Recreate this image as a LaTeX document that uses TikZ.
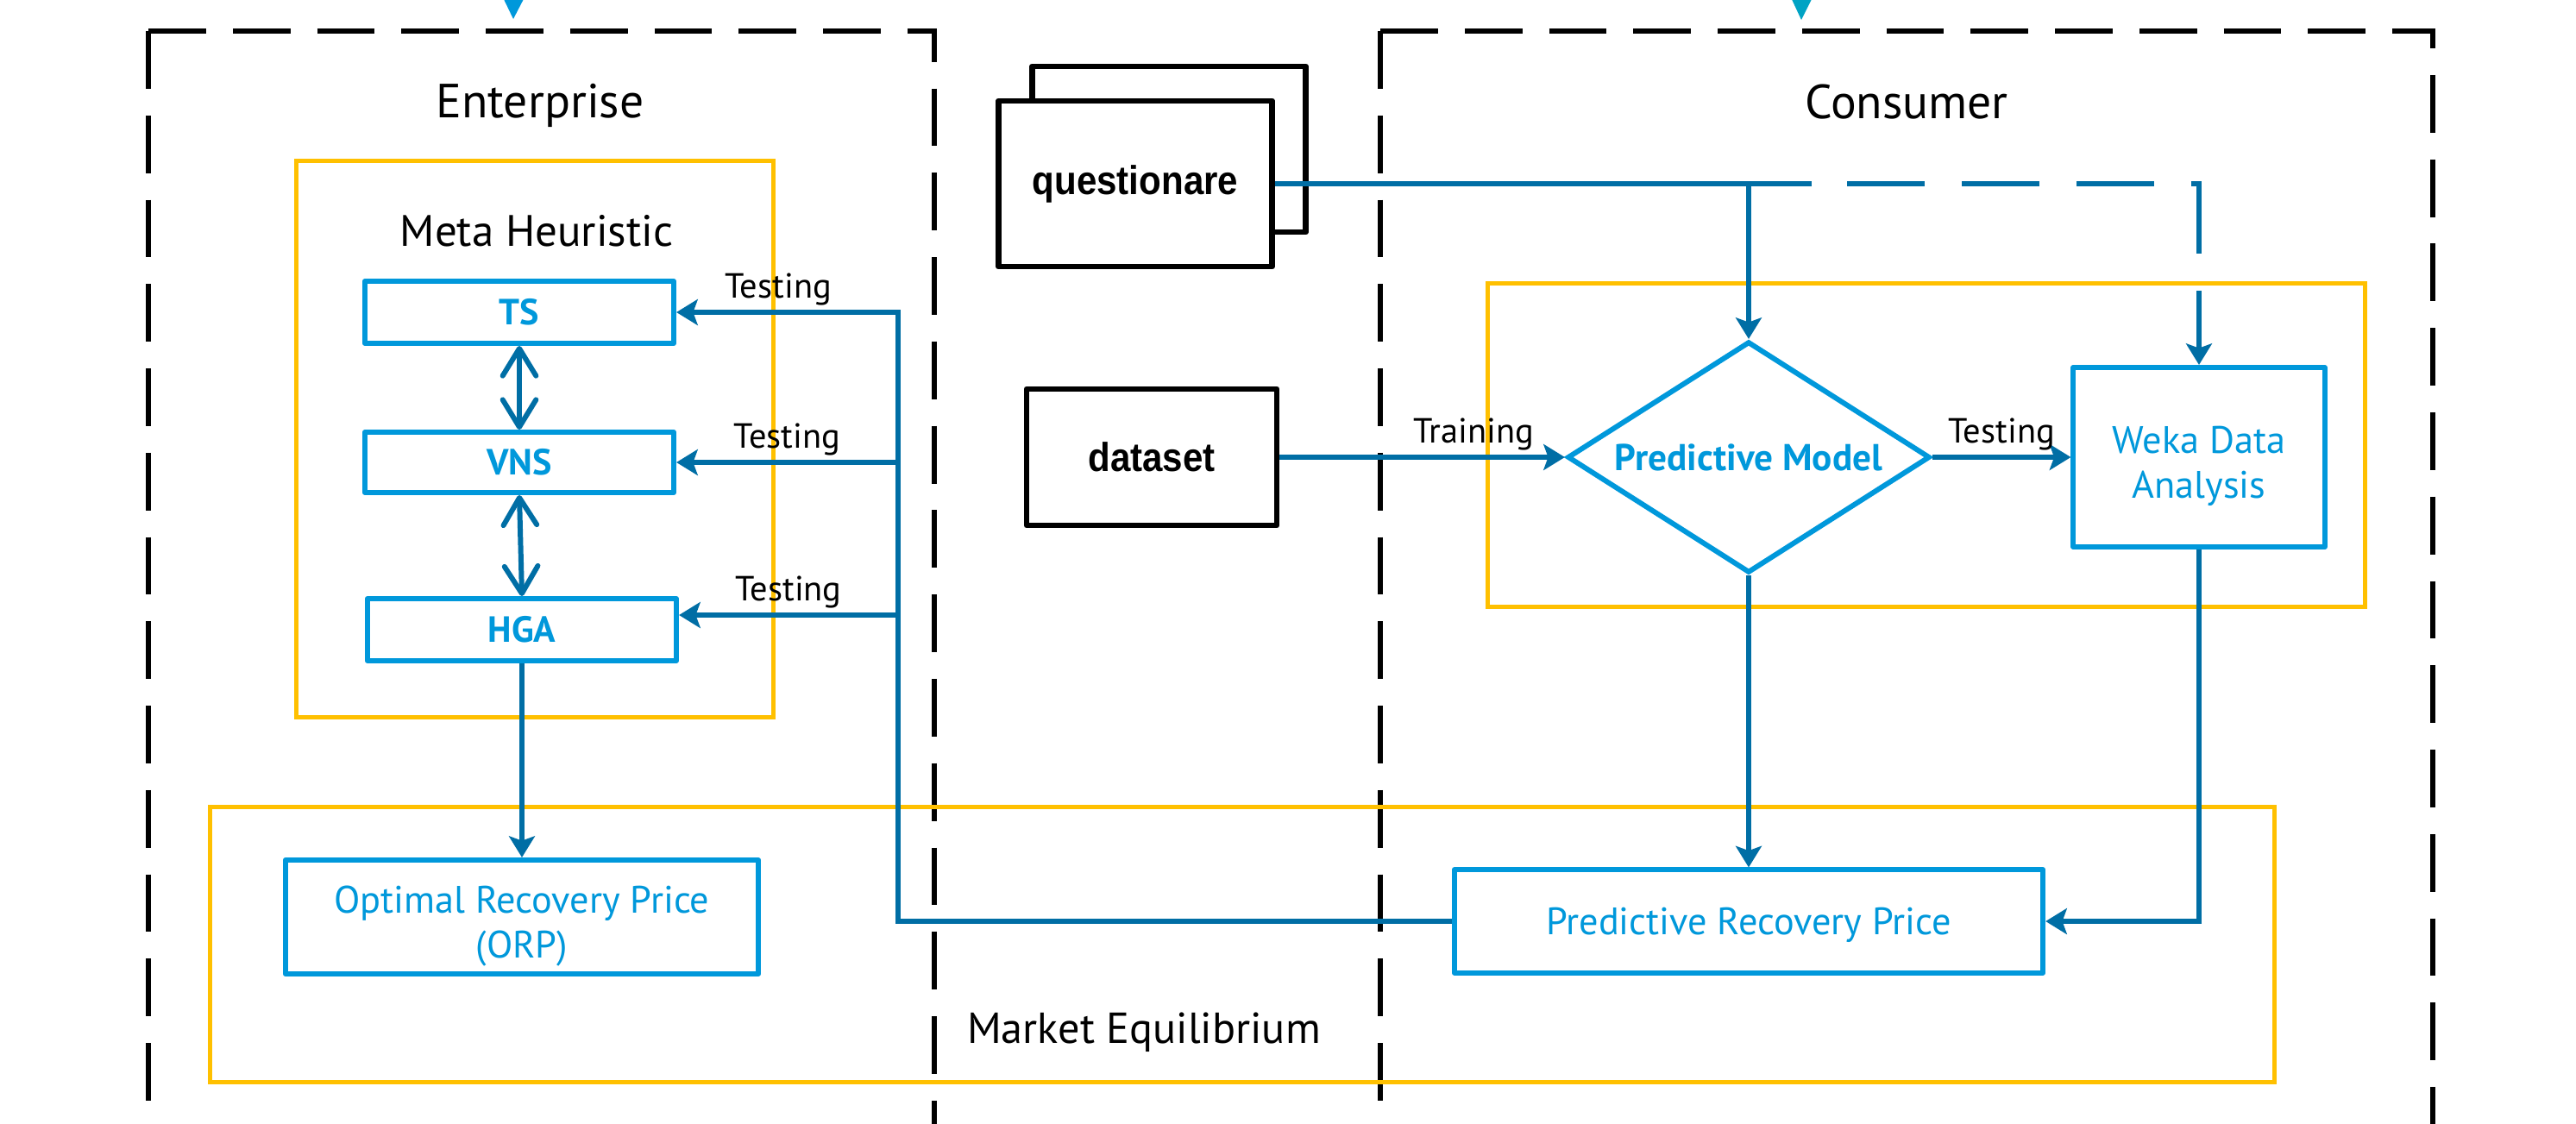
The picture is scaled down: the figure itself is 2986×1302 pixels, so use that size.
\documentclass[tikz,border=0pt]{standalone}
\usepackage{fontspec}
\setmainfont{PT Sans}
\newfontfamily\qfont[FakeStretch=0.9]{Liberation Sans}
\usetikzlibrary{arrows.meta,shapes.geometric}

\definecolor{boxblue}{RGB}{0,152,219}
\definecolor{lineblue}{RGB}{0,110,165}
\definecolor{goldline}{RGB}{255,192,0}
\definecolor{tealtip}{RGB}{0,163,196}

\begin{document}
\begin{tikzpicture}[x=0.01cm,y=-0.01cm,
    algobox/.style={draw=boxblue,line width=1.7pt,line join=round,text=boxblue,
        rectangle,inner sep=0pt,font=\bfseries\fontsize{12}{14}\selectfont},
    pricebox/.style={draw=boxblue,line width=1.7pt,line join=round,text=boxblue,
        rectangle,align=center,inner sep=0pt,font=\fontsize{12.6}{14.8}\selectfont},
    goldframe/.style={draw=goldline,line width=1.4pt,rectangle,inner sep=0pt},
    sidewall/.style={draw=black,line width=1.9pt,dash pattern=on 19pt off 8.8pt},
    paperbox/.style={draw=black,line width=1.9pt,line join=round,fill=white,
        rectangle,inner sep=0pt,font=\qfont\bfseries\fontsize{13.3}{16}\selectfont},
    headline/.style={font=\fontsize{15.8}{18}\selectfont},
    flowline/.style={draw=lineblue,line width=1.7pt},
    flowarrow/.style={flowline,-{Stealth[length=7pt,width=8.5pt,inset=1.5pt]}},
    twoway/.style={flowline,{Straight Barb[length=9pt,width=11pt,round]}-{Straight Barb[length=9pt,width=11pt,round]}},
    testlbl/.style={above,inner sep=1.5pt,font=\fontsize{11.5}{13}\selectfont}]

    \useasboundingbox (0,0) rectangle (2986,1302);
    \fill[white] (0,0) rectangle (2986,1302);
    \clip (0,0) rectangle (2986,1302);

    % Tips coming in from above
    \fill[boxblue] (582,-5) -- (609,-5) -- (595,22) -- cycle;
    \fill[tealtip] (2075,-5) -- (2102,-5) -- (2088,23) -- cycle;

    % Enterprise side
    \draw[sidewall] (172,36) -- (172,1330);
    \draw[sidewall] (172,36) -- (1083,36) -- (1083,1330);
    \node[headline] (Ent) at (626,122) {Enterprise};

    % Consumer side
    \draw[sidewall] (1600,36) -- (1600,1330);
    \draw[sidewall] (1600,36) -- (2820,36) -- (2820,1330);
    \node[headline] (Con) at (2210,118) {Consumer};

    % Meta heuristic frame
    \node[goldframe,
    minimum width=5.52cm,
    minimum height=6.44cm] (Meta) at (620,509) {};
    \node[headline,font=\fontsize{14.5}{18}\selectfont] (MetaT) at (622,268) {Meta Heuristic};

    % Consumer model frame
    \node[goldframe,
    minimum width=10.17cm,
    minimum height=3.75cm] (Model) at (2233,516) {};

    % Market equilibrium frame
    \node[goldframe,
    minimum width=23.92cm,
    minimum height=3.19cm] (Market) at (1440,1095) {};
    \node[headline,font=\fontsize{14.3}{18}\selectfont] (MarketT) at (1326,1197) {Market Equilibrium};

    % Algorithms
    \node[algobox,minimum width=3.58cm,minimum height=0.72cm] (TS) at (602,362) {TS};
    \node[algobox,minimum width=3.58cm,minimum height=0.70cm] (VNS) at (602,536) {VNS};
    \node[algobox,minimum width=3.58cm,minimum height=0.72cm] (HGA) at (605,730) {HGA};

    % Prices
    \node[pricebox,
    text height=27.2pt,
    text depth=0pt,
    minimum width=5.48cm,
    minimum height=1.32cm] (ORP) at (605,1063) {Optimal Recovery Price\\(ORP)};
    \node[pricebox,
    text height=0.9em,
    text depth=0pt,
    minimum width=6.82cm,
    minimum height=1.19cm] (PRP) at (2027,1068) {Predictive Recovery Price};

    % Inputs
    \node[paperbox,minimum width=3.17cm,minimum height=1.92cm] (Qb) at (1355,173) {};
    \node[paperbox,minimum width=3.17cm,minimum height=1.92cm] (Q) at (1316,213) {questionare};
    \node[paperbox,minimum width=2.90cm,minimum height=1.58cm] (D) at (1335,530) {dataset};

    % Predictive model
    \node[draw=boxblue,
    line width=1.7pt,
    diamond,
    aspect=1.57,
    inner sep=0pt,
    minimum width=4.20cm,
    minimum height=2.68cm,
    text=boxblue,
    font=\bfseries\fontsize{12.3}{14}\selectfont] (PM) at (2027,530) {Predictive Model};

    % Weka
    \node[pricebox,
    text height=27.2pt,
    text depth=0pt,
    minimum width=2.91cm,
    minimum height=2.08cm] (Weka) at (2549,530) {Weka Data\\Analysis};

    % Connectors
    \draw[twoway] (TS.south) -- (VNS.north);
    \draw[twoway] (VNS.south) -- (HGA.north);
    \draw[flowarrow] (HGA.south) -- (ORP.north);

    \coordinate (BusT) at (1041,362);
    \coordinate (BusH) at (1041,713);
    \draw[flowarrow] (PRP.west) -| (BusT) -- node[testlbl,pos=0.54]{Testing} (TS.east);
    \draw[flowarrow] (BusT |- VNS.east) -- node[testlbl,pos=0.5]{Testing} (VNS.east);
    \draw[flowarrow] (BusH) -- node[testlbl,pos=0.5]{Testing} (BusH -| HGA.east);

    \coordinate (Qs) at (2100,213);
    \draw[flowline] (Q.east) -- (Qs);
    \draw[flowarrow] (Q.east -| PM.north) -- (PM.north);
    \draw[flowarrow,dash pattern=on 25.6pt off 12.2pt,dash phase=26.1pt] (Qs) -| (Weka.north);

    \draw[flowarrow] (D.east) -- node[testlbl,pos=0.68]{Training} (PM.west);
    \draw[flowarrow] (PM.east) -- node[testlbl,pos=0.5]{Testing} (Weka.west);
    \draw[flowarrow] (PM.south) -- (PRP.north);
    \draw[flowarrow] (Weka.south) |- (PRP.east);
\end{tikzpicture}
\end{document}
